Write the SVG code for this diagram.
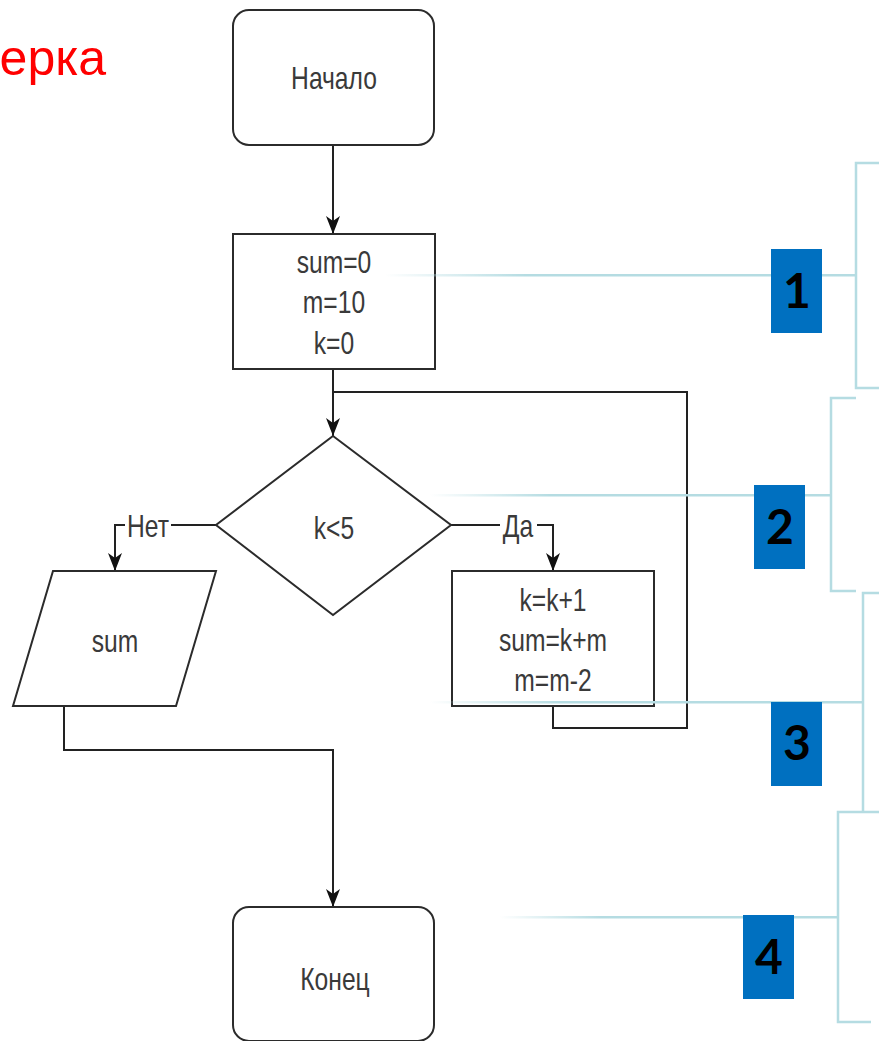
<svg xmlns="http://www.w3.org/2000/svg" width="879" height="1041" viewBox="0 0 879 1041">
<defs>
<style>
.n{fill:#fff;stroke:#2b2b2b;stroke-width:2}
.c{fill:none;stroke:#222;stroke-width:2}
.t{font-family:"Liberation Sans",Arial,sans-serif;font-size:32px;fill:#3a3a3a;text-anchor:middle}
.br{fill:none;stroke:#B5DCE2;stroke-width:2.5}
.lb{fill:#0070C0}
.num{font-family:Lato,"Open Sans",sans-serif;font-weight:bold;font-size:48px;fill:#000;text-anchor:middle}
.title{font-family:"Liberation Sans",Arial,sans-serif;font-size:50px;fill:#FF0000;text-anchor:end}
</style>
<linearGradient id="fade" x1="0" y1="0" x2="1" y2="0">
<stop offset="0" stop-color="#B5DCE2" stop-opacity="0"/>
<stop offset="0.3" stop-color="#B5DCE2" stop-opacity="1"/>
<stop offset="1" stop-color="#B5DCE2" stop-opacity="1"/>
</linearGradient>
<marker id="ah" markerUnits="userSpaceOnUse" markerWidth="18" markerHeight="14" refX="18" refY="7" orient="auto">
<path d="M0,0 L18,7 L0,14 L5,7 z" fill="#111"/>
</marker>
</defs>
<rect width="879" height="1041" fill="#fff"/>
<text class="title" x="106" y="75">ерка</text>

<g id="connectors">
<path class="c" d="M333,145 V234" marker-end="url(#ah)"/>
<path class="c" d="M333,369 V436" marker-end="url(#ah)"/>
<path class="c" d="M553,706 V728 H687 V392 H333"/>
<path class="c" d="M216,525 H171 M125,525 H115 V571" marker-end="url(#ah)"/>
<path class="c" d="M451,525 H500 M537,525 H553 V571" marker-end="url(#ah)"/>
<path class="c" d="M64,706 V750 H333 V907" marker-end="url(#ah)"/>
<g transform="translate(148 537) scale(0.77 1)"><text class="t" x="0" y="0">Нет</text></g>
<g transform="translate(518 537) scale(0.77 1)"><text class="t" x="0" y="0">Да</text></g>
</g>

<g id="start">
<rect class="n" x="233" y="10" width="201" height="135" rx="16"/>
<g transform="translate(334 89) scale(0.77 1)"><text class="t" x="0" y="0">Начало</text></g>
</g>
<g id="init">
<rect class="n" x="233" y="234" width="202" height="135"/>
<g transform="translate(334 273) scale(0.77 1)"><text class="t" x="0" y="0">sum=0</text></g>
<g transform="translate(334 313) scale(0.77 1)"><text class="t" x="0" y="0">m=10</text></g>
<g transform="translate(334 354) scale(0.77 1)"><text class="t" x="0" y="0">k=0</text></g>
</g>
<g id="cond">
<polygon class="n" points="333,436 451,525 333,615 216,525"/>
<g transform="translate(334 539) scale(0.77 1)"><text class="t" x="0" y="0">k&lt;5</text></g>
</g>
<g id="output">
<polygon class="n" points="53,571 216,571 176,706 13,706"/>
<g transform="translate(115 652) scale(0.77 1)"><text class="t" x="0" y="0">sum</text></g>
</g>
<g id="body">
<rect class="n" x="452" y="571" width="202" height="135"/>
<g transform="translate(553 611) scale(0.77 1)"><text class="t" x="0" y="0">k=k+1</text></g>
<g transform="translate(553 651) scale(0.77 1)"><text class="t" x="0" y="0">sum=k+m</text></g>
<g transform="translate(553 691) scale(0.77 1)"><text class="t" x="0" y="0">m=m-2</text></g>
</g>
<g id="end">
<rect class="n" x="233" y="907" width="201" height="134" rx="16"/>
<g transform="translate(335 990) scale(0.77 1)"><text class="t" x="0" y="0">Конец</text></g>
</g>

<g id="annotations">
<rect x="385" y="274" width="471" height="2.5" fill="url(#fade)"/>
<rect x="430" y="494" width="401" height="2.5" fill="url(#fade)"/>
<rect x="430" y="701" width="433" height="2.5" fill="url(#fade)"/>
<rect x="500" y="916" width="338" height="2.5" fill="url(#fade)"/>
<path class="br" d="M879,163 H856 V388 H879"/>
<path class="br" d="M856,398 H831 V591 H856"/>
<path class="br" d="M879,593 H863 V811"/>
<path class="br" d="M879,812 H838 V1022 H871"/>
<g id="label1"><rect class="lb" x="771" y="249" width="51" height="84"/><text class="num" x="797" y="308">1</text></g>
<g id="label2"><rect class="lb" x="754" y="485" width="51" height="84"/><text class="num" x="780" y="544">2</text></g>
<g id="label3"><rect class="lb" x="771" y="702" width="51" height="84"/><text class="num" x="797" y="760">3</text></g>
<g id="label4"><rect class="lb" x="743" y="915" width="51" height="84"/><text class="num" x="769" y="974">4</text></g>
</g>
</svg>
